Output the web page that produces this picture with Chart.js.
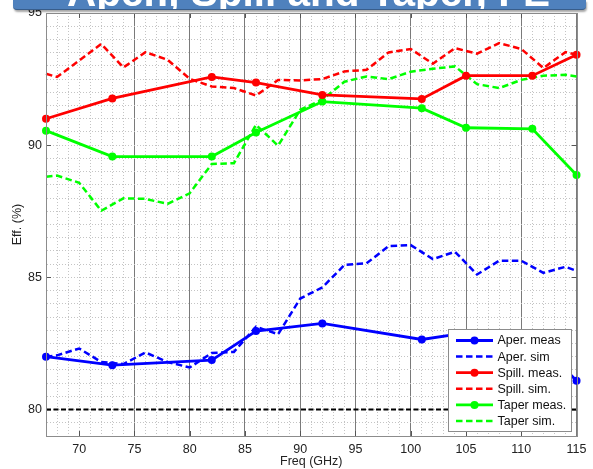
<!DOCTYPE html>
<html>
<head>
<meta charset="utf-8">
<script src="https://cdn.jsdelivr.net/npm/chart.js@4.4.0/dist/chart.umd.min.js"></script>
<style>
  html, body { margin: 0; padding: 0; background: #fff; }
  #wrap { position: relative; width: 593px; height: 469px; }
  #banner {
    position: absolute; left: 13px; top: 0; width: 573px; height: 9px;
    background: #4f81bd; border-bottom: 1px solid #385d8a;
    border-radius: 0 0 4px 4px; box-shadow: 1px 2px 2px rgba(0,0,0,0.35);
    overflow: hidden; z-index: 2;
  }
  #banner span {
    position: absolute; left: 54px; top: -28px; white-space: nowrap;
    font: bold 40.5px/40px "Liberation Sans", Arial, sans-serif; color: #fff;
  }
</style>
</head>
<body>
<div id="wrap">
  <div id="banner"><span>Aper., Spill and Taper, FE</span></div>
  <canvas id="effChart" width="593" height="469"></canvas>
</div>
<script>
var measFreq = [67, 73, 82, 86, 92, 101, 105, 111, 115];
var aperMeas = [82.0, 81.68, 81.87, 82.97, 83.26, 82.65, 82.9, 82.8, 81.09];
var spillMeas = [91.0, 91.77, 92.58, 92.37, 91.9, 91.75, 92.63, 92.63, 93.42];
var taperMeas = [90.55, 89.57, 89.57, 90.48, 91.65, 91.4, 90.66, 90.62, 88.87];

var simFreq = [67, 68, 70, 72, 74, 76, 78, 80, 82, 84, 86, 88, 90, 92, 94, 96, 98, 100, 102, 104, 106, 108, 110, 112, 114, 115];
var aperSim = [82.0, 82.05, 82.31, 81.8, 81.72, 82.16, 81.8, 81.59, 82.14, 82.18, 83.13, 82.85, 84.2, 84.62, 85.47, 85.53, 86.18, 86.22, 85.69, 85.97, 85.11, 85.63, 85.63, 85.17, 85.4, 85.25];
var spillSim = [92.7, 92.58, 93.2, 93.83, 92.94, 93.52, 93.23, 92.51, 92.22, 92.16, 91.88, 92.47, 92.45, 92.5, 92.79, 92.85, 93.51, 93.64, 93.08, 93.67, 93.46, 93.86, 93.64, 92.92, 93.52, 93.42];
var taperSim = [88.81, 88.85, 88.58, 87.52, 87.99, 87.97, 87.78, 88.18, 89.29, 89.32, 90.77, 89.98, 91.34, 91.72, 92.4, 92.6, 92.5, 92.78, 92.89, 92.98, 92.31, 92.16, 92.47, 92.63, 92.66, 92.6];

var refFreq = [67, 115];
var refLevel = [80, 80];

var fontFamily = '"Liberation Sans", Arial, sans-serif';

function pts(xs, ys) {
    return xs.map(function (x, i) { return { x: x, y: ys[i] }; });
}

function meas(label, color, ys) {
    return { label: label, data: pts(measFreq, ys), borderColor: color, backgroundColor: color,
        borderWidth: 2.8, pointRadius: 4, pointBorderWidth: 0, pointBackgroundColor: color, clip: 8 };
}

function sim(label, color, ys) {
    return { label: label, data: pts(simFreq, ys), borderColor: color, backgroundColor: color,
        borderWidth: 2.5, borderDash: [6.5, 3.5], pointRadius: 0, clip: 8 };
}

function isMajorX(c) {
    return c.tick && c.tick.value % 5 === 0 && c.tick.value !== 70;
}

// plot box + inward tick marks
var frame = {
    id: 'frame',
    afterDatasetsDraw: function (chart) {
        var ctx = chart.ctx, a = chart.chartArea;
        var xs = chart.scales.x, ys = chart.scales.y;
        ctx.save();
        ctx.strokeStyle = '#555';
        ctx.lineWidth = 1;
        ctx.beginPath();
        xs.ticks.forEach(function (t) {
            if (t.value % 5 !== 0) return;
            var px = Math.round(xs.getPixelForValue(t.value)) + 0.5;
            ctx.moveTo(px, a.top); ctx.lineTo(px, a.top + 5);
            ctx.moveTo(px, a.bottom); ctx.lineTo(px, a.bottom - 5);
        });
        ys.ticks.forEach(function (t) {
            if (t.value % 5 !== 0) return;
            var py = Math.round(ys.getPixelForValue(t.value)) + 0.5;
            ctx.moveTo(a.left, py); ctx.lineTo(a.left + 5, py);
            ctx.moveTo(a.right, py); ctx.lineTo(a.right - 5, py);
        });
        ctx.stroke();
        ctx.strokeStyle = '#8c8c8c';
        ctx.strokeRect(Math.round(a.left) + 0.5, Math.round(a.top) + 0.5,
            Math.round(a.right - a.left), Math.round(a.bottom - a.top));
        ctx.restore();
    }
};

var boxLegend = {
    id: 'boxLegend',
    afterDraw: function (chart) {
        var ctx = chart.ctx, a = chart.chartArea;
        var items = chart.data.datasets.filter(function (d) { return d.label; });
        var w = 123, h = 102, rowH = 16.1;
        var left = Math.round(a.right - 5.5 - w), top = Math.round(a.bottom - 5 - h);
        ctx.save();
        ctx.fillStyle = '#fff';
        ctx.fillRect(left, top, w, h);
        ctx.strokeStyle = '#8c8c8c';
        ctx.lineWidth = 1;
        ctx.strokeRect(left + 0.5, top + 0.5, w, h);
        ctx.font = '12.5px ' + fontFamily;
        ctx.textBaseline = 'middle';
        items.forEach(function (d, i) {
            var y = top + 11.5 + i * rowH;
            ctx.strokeStyle = d.borderColor;
            ctx.lineWidth = d.borderWidth;
            ctx.setLineDash(d.borderDash || []);
            ctx.beginPath();
            ctx.moveTo(left + 8, y);
            ctx.lineTo(left + 45, y);
            ctx.stroke();
            ctx.setLineDash([]);
            if (d.pointRadius) {
                ctx.fillStyle = d.borderColor;
                ctx.beginPath();
                ctx.arc(left + 26.5, y, d.pointRadius, 0, 2 * Math.PI);
                ctx.fill();
            }
            ctx.fillStyle = '#111';
            ctx.fillText(d.label, left + 49.5, y + 0.5);
        });
        ctx.restore();
    }
};

var ctx = document.getElementById('effChart').getContext('2d');

new Chart(ctx, {
    type: 'line',
    data: {
        datasets: [
            meas('Aper. meas', '#0000ff', aperMeas),
            sim('Aper. sim', '#0000ff', aperSim),
            meas('Spill. meas.', '#ff0000', spillMeas),
            sim('Spill. sim.', '#ff0000', spillSim),
            meas('Taper meas.', '#00ff00', taperMeas),
            sim('Taper sim.', '#00ff00', taperSim),
            { label: '', data: pts(refFreq, refLevel), borderColor: '#000', borderWidth: 2,
              borderDash: [5, 2.5], pointRadius: 0 }
        ]
    },
    options: {
        responsive: false,
        animation: false,
        layout: { padding: { top: 13, right: 10, left: 0, bottom: 0 } },
        plugins: {
            legend: { display: false },
            tooltip: { enabled: false }
        },
        scales: {
            x: {
                type: 'linear',
                min: 67,
                max: 115,
                ticks: {
                    stepSize: 1, autoSkip: false, maxRotation: 0, padding: 6.5, color: '#222',
                    font: { family: fontFamily, size: 12.5 },
                    callback: function (v) { return v % 5 === 0 ? v : ''; }
                },
                grid: {
                    drawTicks: false, lineWidth: 1,
                    color: function (c) { return isMajorX(c) ? '#7a7a7a' : '#c4c4c4'; }
                },
                border: {
                    color: '#8c8c8c',
                    dash: function (c) { return c.tick && !isMajorX(c) ? [1, 2] : []; }
                },
                title: {
                    display: true, text: 'Freq (GHz)', color: '#222',
                    font: { family: fontFamily, size: 12.5 }, padding: { top: 0, bottom: 0 }
                },
                afterFit: function (s) { s.height = 33; }
            },
            y: {
                min: 79,
                max: 95,
                ticks: {
                    stepSize: 0.5, autoSkip: false, padding: 4, color: '#222',
                    font: { family: fontFamily, size: 12.5 },
                    callback: function (v) { return v % 5 === 0 ? v : ''; }
                },
                grid: { drawTicks: false, lineWidth: 1, color: '#c4c4c4' },
                border: {
                    color: '#8c8c8c',
                    dash: function (c) { return c.tick ? [1, 2] : []; }
                },
                title: {
                    display: true, text: 'Eff. (%)', color: '#222',
                    font: { family: fontFamily, size: 12.5 }, padding: { top: 10, bottom: 0 }
                },
                afterFit: function (s) { s.width = 46; }
            }
        }
    },
    plugins: [frame, boxLegend]
});
</script>
</body>
</html>
